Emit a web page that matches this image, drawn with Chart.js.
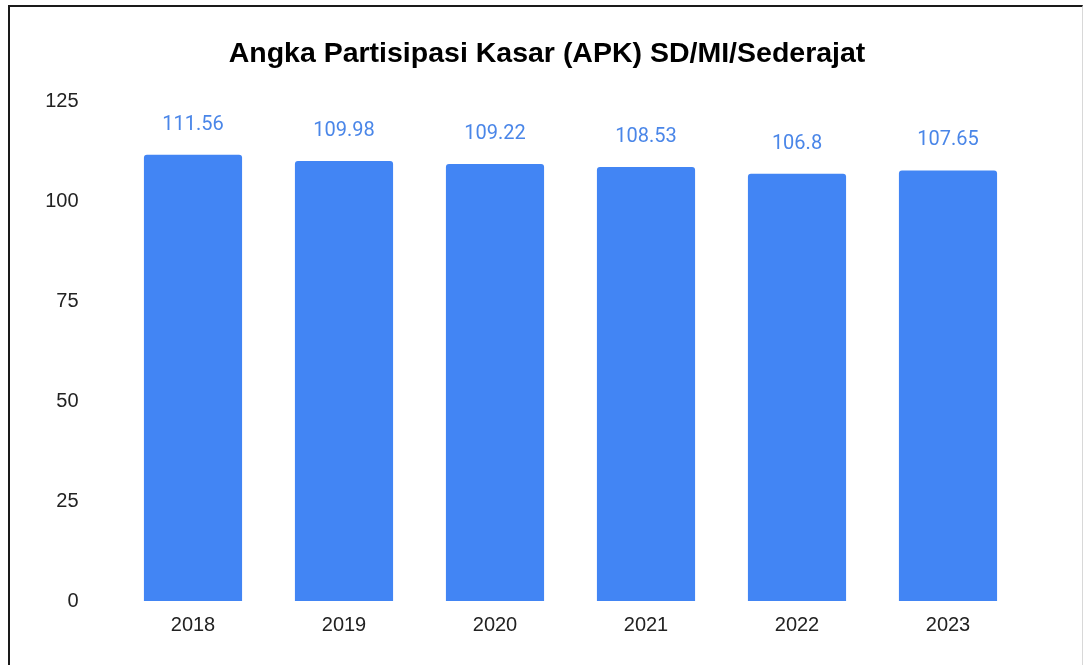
<!DOCTYPE html>
<html>
<head>
<meta charset="utf-8">
<script src="https://cdn.jsdelivr.net/npm/chart.js@4.4.1/dist/chart.umd.min.js"></script>
<style>
  html, body { margin: 0; padding: 0; background: #fff; }
  #wrap { position: relative; width: 1083px; height: 665px; overflow: hidden; }
  #frame {
    position: absolute; left: 8px; top: 5px; width: 1072px; height: 680px;
    border-left: 2px solid #1a1a1a; border-top: 2px solid #1a1a1a; border-right: 1px solid #d8d8d8;
  }
  canvas { position: absolute; left: 0; top: 0; }
</style>
</head>
<body>
<div id="wrap">
  <div id="frame"></div>
  <canvas id="apkChart" width="1083" height="665"></canvas>
</div>
<script>
const chartTitle = "Angka Partisipasi Kasar (APK) SD/MI/Sederajat";
const years = ["2018", "2019", "2020", "2021", "2022", "2023"];
const apkValues = [111.56, 109.98, 109.22, 108.53, 106.8, 107.65];
const yTicks = [0, 25, 50, 75, 100, 125];

// draw the value above each bar, plus the title (centred on the frame, not the plot)
const valueLabels = {
  id: "valueLabels",
  afterDatasetsDraw(chart) {
    const ctx = chart.ctx;
    const meta = chart.getDatasetMeta(0);
    ctx.save();
    ctx.textAlign = "center";
    ctx.textBaseline = "middle";
    ctx.font = "20px Roboto";
    ctx.fillStyle = "#4a86e8";
    meta.data.forEach((bar, i) => {
      ctx.fillText(String(apkValues[i]), bar.x, bar.y - 30);
    });
    ctx.font = "bold 28.5px 'Liberation Sans'";
    ctx.fillStyle = "#000";
    ctx.fillText(chartTitle, 547, 54);
    ctx.restore();
  }
};

new Chart(document.getElementById("apkChart"), {
  type: "bar",
  data: {
    labels: years,
    datasets: [{
      data: apkValues,
      backgroundColor: "#4285f4",
      borderRadius: { topLeft: 3, topRight: 3 },
      borderSkipped: "bottom",
      categoryPercentage: 0.65,
      barPercentage: 1
    }]
  },
  options: {
    responsive: false,
    animation: false,
    layout: { padding: { left: 0, right: 59.5, top: 101, bottom: 0 } },
    plugins: {
      legend: { display: false },
      tooltip: { enabled: false },
      title: { display: false }
    },
    scales: {
      x: {
        grid: { display: false, drawTicks: false },
        border: { display: false },
        ticks: { color: "#222", font: { family: "Liberation Sans", size: 20 }, padding: 12 },
        afterFit(scale) { scale.height = 64; }
      },
      y: {
        min: 0,
        max: 125,
        afterBuildTicks(scale) { scale.ticks = yTicks.map(v => ({ value: v })); },
        grid: { display: false, drawTicks: false },
        border: { display: false },
        ticks: { color: "#222", font: { family: "Liberation Sans", size: 20 }, padding: 39 },
        afterFit(scale) { scale.width = 117.5; }
      }
    }
  },
  plugins: [valueLabels]
});
</script>
</body>
</html>
